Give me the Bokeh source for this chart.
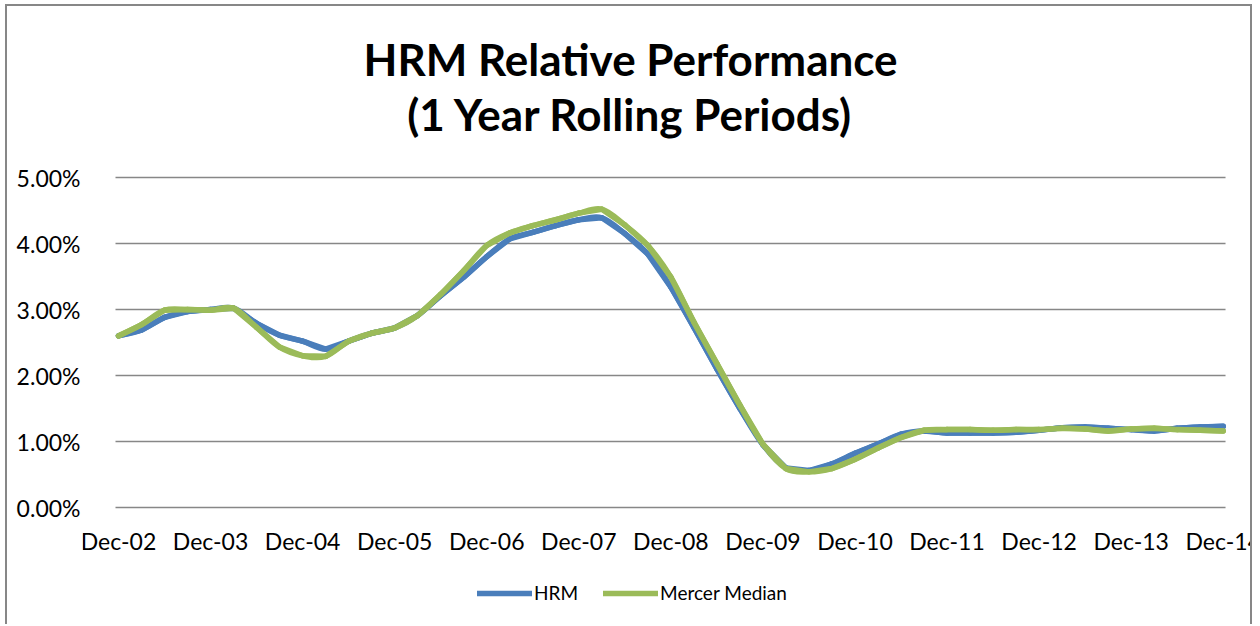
from bokeh.plotting import figure
from bokeh.models import (Range1d, FixedTicker, PrintfTickFormatter, Label, Legend, LegendItem)
from bokeh.core.properties import value
from bokeh.embed import file_html
from bokeh.resources import INLINE

# ---- data (quarterly, Dec-02 .. Dec-14), values in percent ----
year_labels = ["Dec-02", "Dec-03", "Dec-04", "Dec-05", "Dec-06", "Dec-07", "Dec-08",
               "Dec-09", "Dec-10", "Dec-11", "Dec-12", "Dec-13", "Dec-14"]
hrm = [2.60, 2.69, 2.88, 2.97, 3.00, 3.02, 2.79, 2.61, 2.52, 2.40,
       2.52, 2.64, 2.72, 2.91, 3.21, 3.49, 3.80, 4.07, 4.17, 4.27,
       4.36, 4.39, 4.15, 3.84, 3.34, 2.73, 2.10, 1.50, 0.95, 0.60,
       0.56, 0.66, 0.82, 0.96, 1.11, 1.16, 1.13, 1.13, 1.13, 1.14,
       1.17, 1.21, 1.22, 1.20, 1.18, 1.16, 1.20, 1.22, 1.23]
mercer = [2.60, 2.77, 2.99, 3.00, 2.99, 3.02, 2.73, 2.43, 2.30, 2.29,
          2.52, 2.64, 2.72, 2.91, 3.23, 3.59, 3.97, 4.16, 4.27, 4.36,
          4.46, 4.52, 4.28, 3.97, 3.49, 2.81, 2.18, 1.55, 0.96, 0.59,
          0.54, 0.59, 0.73, 0.90, 1.06, 1.17, 1.18, 1.18, 1.17, 1.18,
          1.18, 1.20, 1.19, 1.16, 1.19, 1.20, 1.18, 1.17, 1.16]
y_ticks = [0, 1, 2, 3, 4, 5]
title_lines = ["HRM Relative Performance", "(1 Year Rolling Periods)"]
series_names = ["HRM", "Mercer Median"]
colors = ["#4A7EBB", "#9BBB59"]

quarters = list(range(len(hrm)))
year_ticks = [4 * i for i in range(len(year_labels))]
FONT = "Lato"
LW = 5.5
GRID_X0, GRID_X1 = -0.13, 48.1      # horizontal extent of the plot area

p = figure(width=1247, height=620, output_backend="svg", toolbar_location=None,
           x_axis_location=None,
           x_range=Range1d(-1.564, 49.359), y_range=Range1d(-1.803, 7.591),
           min_border_left=75, min_border_right=0, min_border_top=0, min_border_bottom=0)
p.title.visible = False
p.title.standoff = 0
p.title.text_font_size = "0px"
p.styles = {"border-left": "2px solid #878787", "border-top": "2px solid #878787",
            "border-right": "2px solid #878787", "margin-left": "5px", "margin-top": "4px"}
p.outline_line_color = None
p.background_fill_color = "white"
p.border_fill_color = "white"
p.xgrid.grid_line_color = None
p.ygrid.grid_line_color = None

# horizontal gridlines across the plot area
p.segment(x0=[GRID_X0] * len(y_ticks), x1=[GRID_X1] * len(y_ticks), y0=y_ticks, y1=y_ticks,
          line_color="#878787", line_width=1.5)


def smooth_segments(xs, ys):
    """Cubic Bezier control points (Catmull-Rom) for a smoothed line through the data."""
    n = len(xs)
    seg = dict(x0=[], y0=[], x1=[], y1=[], cx0=[], cy0=[], cx1=[], cy1=[])
    for i in range(n - 1):
        xm, ym = (xs[i - 1], ys[i - 1]) if i > 0 else (xs[i], ys[i])
        xp, yp = (xs[i + 2], ys[i + 2]) if i + 2 < n else (xs[i + 1], ys[i + 1])
        seg["x0"].append(xs[i]); seg["y0"].append(ys[i])
        seg["x1"].append(xs[i + 1]); seg["y1"].append(ys[i + 1])
        seg["cx0"].append(xs[i] + (xs[i + 1] - xm) / 6.0)
        seg["cy0"].append(ys[i] + (ys[i + 1] - ym) / 6.0)
        seg["cx1"].append(xs[i + 1] - (xp - xs[i]) / 6.0)
        seg["cy1"].append(ys[i + 1] - (yp - ys[i]) / 6.0)
    return seg


renderers = []
for vals, col in zip([hrm, mercer], colors):
    r = p.line(quarters, vals, line_color=col, line_width=LW, line_join="round", line_cap="round")
    p.bezier(line_color=col, line_width=LW, line_cap="round", **smooth_segments(quarters, vals))
    renderers.append(r)

# category (year) labels under the 0% line
p.text(x=year_ticks, y=[-0.515] * len(year_ticks), text=year_labels,
       text_font=value(FONT), text_font_size="23px", text_align="center",
       text_baseline="middle", text_color="black")

# y axis
p.yaxis.ticker = FixedTicker(ticks=y_ticks)
p.yaxis.formatter = PrintfTickFormatter(format="%.2f%%")
ya = p.yaxis[0]
ya.axis_line_color = None
ya.major_tick_line_color = None
ya.minor_tick_line_color = None
ya.major_tick_out = 0
ya.major_tick_in = 0
ya.minor_tick_out = 0
ya.major_label_standoff = 2
ya.major_label_text_font = FONT
ya.major_label_text_font_size = "23px"
ya.major_label_text_color = "black"

# title (two centred lines)
title_y = [6.79, 5.96]
for t, ty in zip(title_lines, title_y):
    p.add_layout(Label(x=22.25, y=ty, text=t, text_font=FONT, text_font_style="bold",
                       text_font_size="44px", text_align="center", text_baseline="middle",
                       text_color="black"))

legend = Legend(items=[LegendItem(label=series_names[0], renderers=[renderers[0]]),
                       LegendItem(label=series_names[1], renderers=[renderers[1]])],
                orientation="horizontal", location=(395, 22),
                glyph_width=55, glyph_height=20, label_standoff=2, spacing=25,
                padding=0, margin=0, border_line_color=None, background_fill_alpha=0,
                label_text_font=FONT, label_text_font_size="19px", label_text_color="black")
p.add_layout(legend, "center")

open("out.html", "w").write(file_html(p, INLINE))
